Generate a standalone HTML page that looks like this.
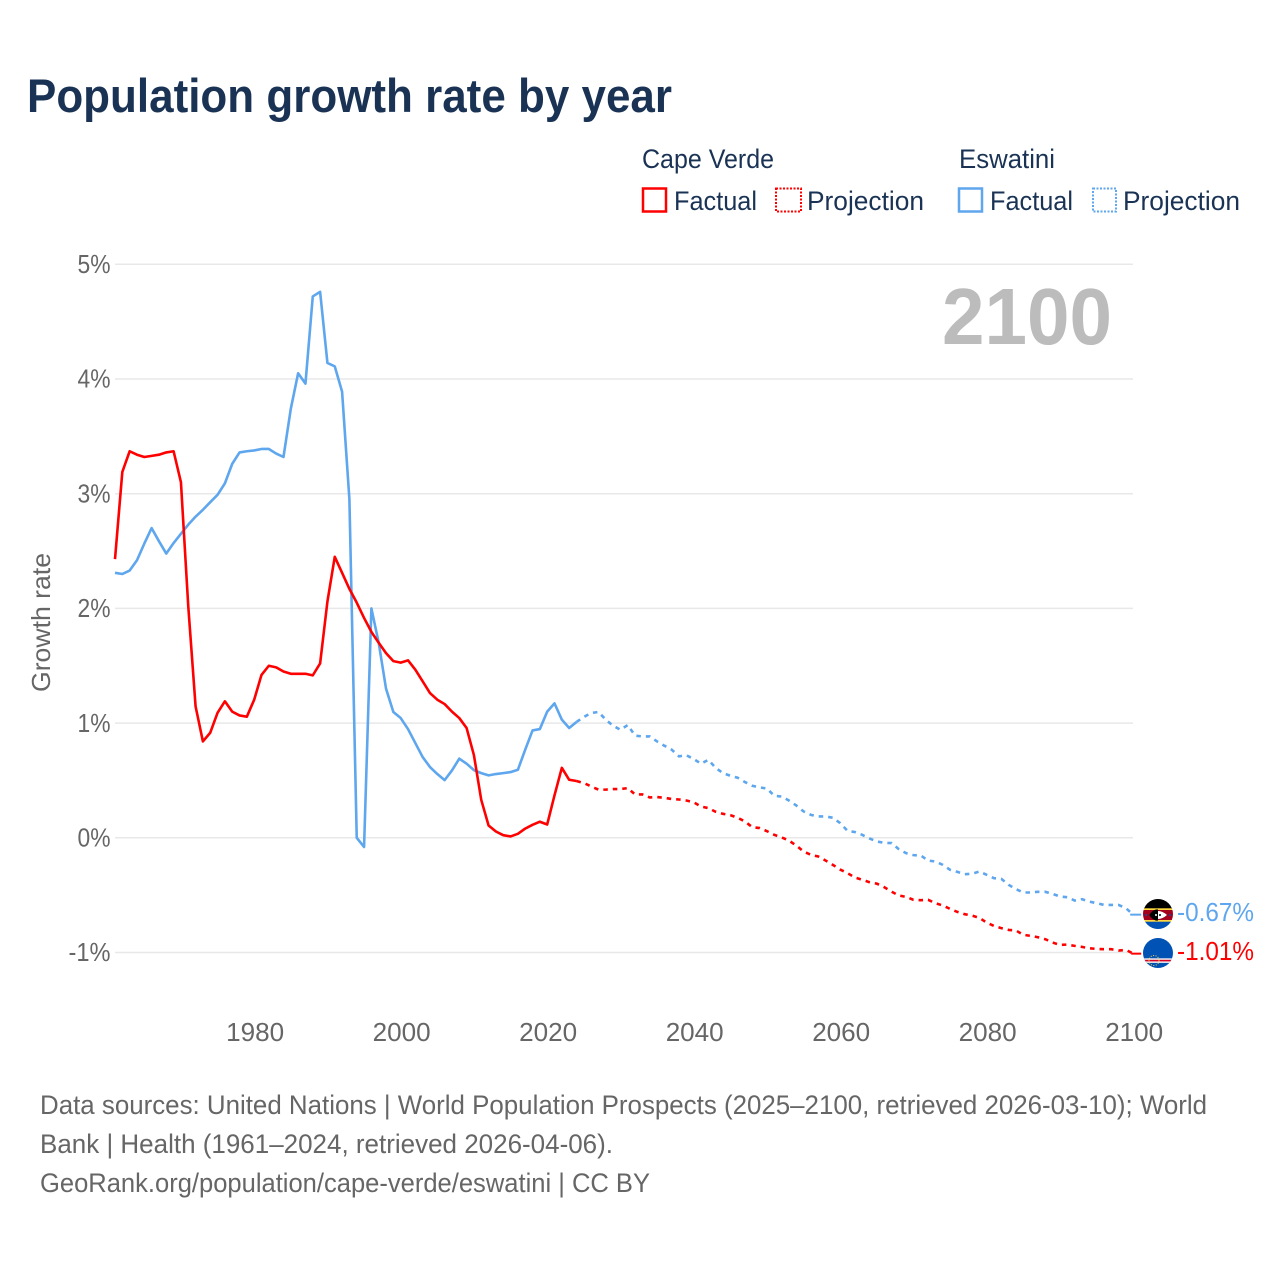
<!DOCTYPE html>
<html lang="en">
<head>
<meta charset="utf-8">
<title>Population growth rate by year</title>
<style>
  html, body { margin: 0; padding: 0; background: #ffffff; }
  #chart { display: block; width: 1280px; height: 1280px; font-family: "Liberation Sans", sans-serif; }
</style>
</head>
<body>
<svg id="chart" xmlns="http://www.w3.org/2000/svg" width="1280" height="1280" viewBox="0 0 1280 1280">
  <text x="27" y="112" font-size="47" font-weight="700" fill="#1a3355" textLength="645" lengthAdjust="spacingAndGlyphs">Population growth rate by year</text>

  <g font-size="27" fill="#1a3355">
    <text x="642" y="168" textLength="132" lengthAdjust="spacingAndGlyphs">Cape Verde</text>
    <rect x="643" y="188.500" width="23" height="23" fill="none" stroke="#ff0000" stroke-width="2.500"/>
    <text x="674" y="210" textLength="83" lengthAdjust="spacingAndGlyphs">Factual</text>
    <rect x="776" y="188.500" width="25" height="23" fill="none" stroke="#ff0000" stroke-width="2" stroke-dasharray="2 1.500"/>
    <text x="807" y="210" textLength="117" lengthAdjust="spacingAndGlyphs">Projection</text>
    <text x="959" y="168" textLength="96" lengthAdjust="spacingAndGlyphs">Eswatini</text>
    <rect x="959" y="188.500" width="23" height="23" fill="none" stroke="#5ea6ee" stroke-width="2.500"/>
    <text x="990" y="210" textLength="83" lengthAdjust="spacingAndGlyphs">Factual</text>
    <rect x="1093" y="188.500" width="23" height="23" fill="none" stroke="#5ea6ee" stroke-width="2" stroke-dasharray="2 1.500"/>
    <text x="1123" y="210" textLength="117" lengthAdjust="spacingAndGlyphs">Projection</text>
  </g>

  <g id="grid"></g>
  <g id="y-ticks"></g>
  <g id="x-ticks"></g>

  <text x="1112" y="344" font-size="80" font-weight="700" fill="#bcbcbc" text-anchor="end" textLength="170" lengthAdjust="spacingAndGlyphs">2100</text>

  <text transform="translate(50 692) rotate(-90)" font-size="26" fill="#666666" textLength="139" lengthAdjust="spacingAndGlyphs">Growth rate</text>

  <g id="series"></g>

  <defs>
    <clipPath id="flag-clip-eswatini"><circle cx="1158" cy="914" r="15"/></clipPath>
    <clipPath id="flag-clip-cape-verde"><circle cx="1158" cy="953" r="15"/></clipPath>
  </defs>

  <g clip-path="url(#flag-clip-eswatini)">
    <rect x="1143" y="899" width="30" height="10" fill="#000000"/>
    <rect x="1143" y="908.300" width="30" height="2" fill="#ffd83d"/>
    <rect x="1143" y="910" width="30" height="10" fill="#a2001d"/>
    <rect x="1143" y="920" width="30" height="2" fill="#ffd83d"/>
    <rect x="1143" y="921.700" width="30" height="8.300" fill="#0052b4"/>
    <path d="M1149 915 Q1158 907 1167 915 Q1158 923 1149 915Z" fill="#ffffff"/>
    <path d="M1149 915 Q1154 908.500 1158 909.500 L1158 920.500 Q1154 921.500 1149 915Z" fill="#000000"/>
    <circle cx="1156" cy="915" r="1" fill="#ffffff"/>
    <circle cx="1160" cy="915" r="1" fill="#000000"/>
    <circle cx="1146" cy="915" r="1" fill="#0052b4"/>
    <circle cx="1170" cy="915" r="1" fill="#0052b4"/>
  </g>

  <g clip-path="url(#flag-clip-cape-verde)">
    <rect x="1143" y="938" width="30" height="30" fill="#0052b4"/>
    <rect x="1143" y="958.300" width="30" height="4.600" fill="#f0f0f0"/>
    <rect x="1143" y="959.800" width="30" height="1.600" fill="#d80027"/>
    <circle cx="1154" cy="960.500" r="5" fill="none" stroke="#ffd83d" stroke-width="1" stroke-dasharray="1 1.500"/>
  </g>

  <text x="1177" y="921" font-size="26" fill="#5ea6ee" textLength="77" lengthAdjust="spacingAndGlyphs">-0.67%</text>
  <text x="1177" y="960" font-size="26" fill="#ff0000" textLength="77" lengthAdjust="spacingAndGlyphs">-1.01%</text>

  <g font-size="26.500" fill="#666666">
    <text x="40" y="1114" textLength="1167" lengthAdjust="spacingAndGlyphs">Data sources: United Nations | World Population Prospects (2025–2100, retrieved 2026-03-10); World</text>
    <text x="40" y="1153" textLength="573" lengthAdjust="spacingAndGlyphs">Bank | Health (1961–2024, retrieved 2026-04-06).</text>
    <text x="40" y="1192" textLength="610" lengthAdjust="spacingAndGlyphs">GeoRank.org/population/cape-verde/eswatini | CC BY</text>
  </g>
</svg>

<script>
const firstFactualYear = 1961;
const firstProjectionYear = 2024;

const yTickValues = [5, 4, 3, 2, 1, 0, -1];
const yTickLabels = ["5%", "4%", "3%", "2%", "1%", "0%", "-1%"];
const xTickYears = [1980, 2000, 2020, 2040, 2060, 2080, 2100];
const xTickLabels = ["1980", "2000", "2020", "2040", "2060", "2080", "2100"];

// Cape Verde, 1961-2024
const capeVerdeFactual = [
  2.43, 3.19, 3.37, 3.34, 3.32, 3.33, 3.34, 3.36, 3.37, 3.10,
  2.02, 1.146, 0.84, 0.916, 1.09, 1.19, 1.10, 1.067, 1.056, 1.204,
  1.42, 1.50, 1.486, 1.45, 1.43, 1.43, 1.43, 1.416, 1.52, 2.06,
  2.45, 2.31, 2.17, 2.05, 1.917, 1.795, 1.70, 1.61, 1.54, 1.527,
  1.547, 1.466, 1.364, 1.262, 1.204, 1.166, 1.10, 1.044, 0.957, 0.72,
  0.33, 0.107, 0.055, 0.023, 0.012, 0.035, 0.08, 0.113, 0.14, 0.116,
  0.37, 0.61, 0.506, 0.495
];

// Cape Verde, 2024-2100
const capeVerdeProjection = [
  0.495, 0.477, 0.448, 0.42, 0.42, 0.425, 0.425, 0.433, 0.378, 0.378,
  0.352, 0.355, 0.349, 0.338, 0.334, 0.325, 0.31, 0.273, 0.259, 0.227,
  0.209, 0.198, 0.175, 0.142, 0.093, 0.085, 0.058, 0.026, 0.003, -0.024,
  -0.067, -0.12, -0.148, -0.163, -0.198, -0.236, -0.277, -0.308, -0.346, -0.366,
  -0.387, -0.40, -0.43, -0.469, -0.503, -0.515, -0.541, -0.544, -0.541, -0.57,
  -0.59, -0.62, -0.646, -0.666, -0.678, -0.698, -0.739, -0.768, -0.788, -0.803,
  -0.808, -0.846, -0.855, -0.867, -0.884, -0.913, -0.934, -0.931, -0.942, -0.951,
  -0.963, -0.969, -0.971, -0.971, -0.983, -0.977, -1.01
];

// Eswatini, 1961-2024
const eswatiniFactual = [
  2.31, 2.30, 2.33, 2.42, 2.565, 2.70, 2.586, 2.478, 2.57, 2.65,
  2.73, 2.80, 2.86, 2.926, 2.99, 3.09, 3.26, 3.36, 3.37, 3.377,
  3.39, 3.39, 3.35, 3.32, 3.74, 4.05, 3.96, 4.72, 4.76, 4.14,
  4.11, 3.89, 2.95, 0.0, -0.08, 2.0, 1.70, 1.30, 1.097, 1.044,
  0.948, 0.826, 0.704, 0.617, 0.556, 0.503, 0.587, 0.69, 0.646, 0.59,
  0.564, 0.544, 0.556, 0.564, 0.573, 0.593, 0.768, 0.936, 0.948, 1.10,
  1.172, 1.03, 0.957, 1.01
];

// Eswatini, 2024-2100
const eswatiniProjection = [
  1.01, 1.053, 1.088, 1.097, 1.03, 0.977, 0.942, 0.983, 0.89, 0.884,
  0.884, 0.84, 0.803, 0.768, 0.71, 0.72, 0.687, 0.646, 0.68, 0.61,
  0.564, 0.541, 0.524, 0.486, 0.454, 0.439, 0.43, 0.366, 0.36, 0.325,
  0.282, 0.23, 0.20, 0.186, 0.186, 0.175, 0.128, 0.061, 0.05, 0.026,
  -0.006, -0.032, -0.044, -0.046, -0.099, -0.134, -0.151, -0.154, -0.198, -0.207,
  -0.236, -0.279, -0.297, -0.317, -0.314, -0.294, -0.323, -0.352, -0.358, -0.41,
  -0.448, -0.477, -0.477, -0.471, -0.471, -0.489, -0.512, -0.518, -0.547, -0.535,
  -0.556, -0.57, -0.585, -0.585, -0.585, -0.613, -0.67
];

const SVG_NS = "http://www.w3.org/2000/svg";

function xScale(year) {
  return 115 + (year - 1961) * (1018.2 / 139);
}

function yScale(value) {
  return 837.8 - value * 114.7;
}

function linePath(values, startYear) {
  return values.map(function (v, i) {
    return (i === 0 ? "M" : "L") + xScale(startYear + i).toFixed(2) + " " + yScale(v).toFixed(2);
  }).join(" ");
}

function drawGridAndTicks() {
  const grid = document.getElementById("grid");
  const yTicks = document.getElementById("y-ticks");
  const xTicks = document.getElementById("x-ticks");

  yTickValues.forEach(function (v, i) {
    const line = document.createElementNS(SVG_NS, "line");
    line.setAttribute("x1", 115);
    line.setAttribute("x2", 1133);
    line.setAttribute("y1", yScale(v));
    line.setAttribute("y2", yScale(v));
    line.setAttribute("stroke", "#e8e8e8");
    line.setAttribute("stroke-width", "1.500");
    
    
    grid.appendChild(line);

    const label = document.createElementNS(SVG_NS, "text");
    label.setAttribute("x", 110.5);
    label.setAttribute("y", yScale(v) + 8.7);
    label.setAttribute("text-anchor", "end");
    label.setAttribute("font-size", "26");
    label.setAttribute("textLength", yTickLabels[i].length > 2 ? "42" : "33");
    label.setAttribute("lengthAdjust", "spacingAndGlyphs");
    label.setAttribute("fill", "#666666");
    
    
    label.textContent = yTickLabels[i];
    yTicks.appendChild(label);
  });

  xTickYears.forEach(function (year, i) {
    const label = document.createElementNS(SVG_NS, "text");
    label.setAttribute("x", xScale(year) + 1);
    label.setAttribute("y", 1041);
    label.setAttribute("text-anchor", "middle");
    label.setAttribute("font-size", "26");
    label.setAttribute("textLength", "58");
    label.setAttribute("lengthAdjust", "spacingAndGlyphs");
    label.setAttribute("fill", "#666666");
    
    
    label.textContent = xTickLabels[i];
    xTicks.appendChild(label);
  });
}

function drawSeries() {
  const group = document.getElementById("series");

  const eswatiniLine = document.createElementNS(SVG_NS, "path");
  eswatiniLine.setAttribute("d", linePath(eswatiniFactual, firstFactualYear));
  eswatiniLine.setAttribute("fill", "none");
  eswatiniLine.setAttribute("stroke", "#5ea6ee");
  eswatiniLine.setAttribute("stroke-width", "2.600");
  eswatiniLine.setAttribute("stroke-linejoin", "round");
  
  
  group.appendChild(eswatiniLine);

  const eswatiniDash = document.createElementNS(SVG_NS, "path");
  eswatiniDash.setAttribute("d", linePath(eswatiniProjection, firstProjectionYear));
  eswatiniDash.setAttribute("fill", "none");
  eswatiniDash.setAttribute("stroke", "#5ea6ee");
  eswatiniDash.setAttribute("stroke-width", "2.600");
  eswatiniDash.setAttribute("stroke-dasharray", "4.500 5");
  
  
  group.appendChild(eswatiniDash);

  const capeVerdeLine = document.createElementNS(SVG_NS, "path");
  capeVerdeLine.setAttribute("d", linePath(capeVerdeFactual, firstFactualYear));
  capeVerdeLine.setAttribute("fill", "none");
  capeVerdeLine.setAttribute("stroke", "#ff0000");
  capeVerdeLine.setAttribute("stroke-width", "2.600");
  capeVerdeLine.setAttribute("stroke-linejoin", "round");
  
  
  group.appendChild(capeVerdeLine);

  const capeVerdeDash = document.createElementNS(SVG_NS, "path");
  capeVerdeDash.setAttribute("d", linePath(capeVerdeProjection, firstProjectionYear));
  capeVerdeDash.setAttribute("fill", "none");
  capeVerdeDash.setAttribute("stroke", "#ff0000");
  capeVerdeDash.setAttribute("stroke-width", "2.600");
  capeVerdeDash.setAttribute("stroke-dasharray", "4.500 5");
  
  
  group.appendChild(capeVerdeDash);

  const eswatiniLast = eswatiniProjection[eswatiniProjection.length - 1];
  const eswatiniStub = document.createElementNS(SVG_NS, "line");
  eswatiniStub.setAttribute("x1", xScale(2100) - 3);
  eswatiniStub.setAttribute("x2", xScale(2100) + 8);
  eswatiniStub.setAttribute("y1", yScale(eswatiniLast));
  eswatiniStub.setAttribute("y2", yScale(eswatiniLast));
  eswatiniStub.setAttribute("stroke", "#5ea6ee");
  eswatiniStub.setAttribute("stroke-width", "2");
  
  
  group.appendChild(eswatiniStub);

  const capeVerdeLast = capeVerdeProjection[capeVerdeProjection.length - 1];
  const capeVerdeStub = document.createElementNS(SVG_NS, "line");
  capeVerdeStub.setAttribute("x1", xScale(2100) - 2);
  capeVerdeStub.setAttribute("x2", xScale(2100) + 8);
  capeVerdeStub.setAttribute("y1", yScale(capeVerdeLast));
  capeVerdeStub.setAttribute("y2", yScale(capeVerdeLast));
  capeVerdeStub.setAttribute("stroke", "#ff0000");
  capeVerdeStub.setAttribute("stroke-width", "2");
  
  
  group.appendChild(capeVerdeStub);
}

drawGridAndTicks();
drawSeries();
</script>
</body>
</html>
